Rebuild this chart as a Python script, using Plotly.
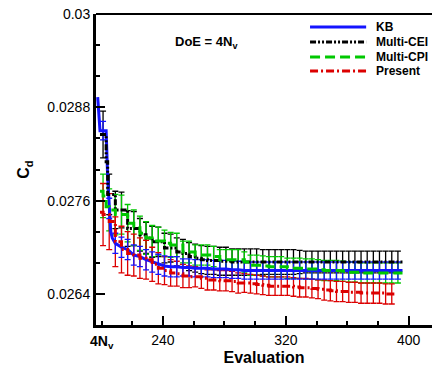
import plotly.graph_objects as go

# ---------------- data ----------------
eval_x = [201, 205, 209, 213, 217, 221, 225, 229, 233, 237,
          241, 245, 249, 253, 257, 261, 265, 269, 273, 277,
          281, 285, 289, 293, 297, 301, 305, 309, 313, 317,
          321, 325, 329, 333, 337, 341, 345, 349, 353, 357,
          361, 365, 369, 373, 377, 381, 385, 389, 393]

kb_y = [0.02850, 0.02750, 0.02705, 0.02700, 0.02697, 0.02690, 0.02688, 0.02684, 0.02681, 0.02678,
        0.02676, 0.02675, 0.02675, 0.02674, 0.02674, 0.02673, 0.02673, 0.02673, 0.02672, 0.02672,
        0.02672, 0.02671, 0.02671, 0.02670, 0.02670, 0.02670, 0.02670, 0.02670, 0.02670, 0.02670,
        0.02670, 0.02670, 0.02670, 0.02670, 0.02670, 0.02670, 0.02670, 0.02670, 0.02670, 0.02670,
        0.02670, 0.02670, 0.02670, 0.02670, 0.02670, 0.02670, 0.02670, 0.02670, 0.02670]
kb_err = [0.00012, 0.00013, 0.00013, 0.00013, 0.00013, 0.00013, 0.00013, 0.00013, 0.00013, 0.00013,
          0.00013, 0.00013, 0.00013, 0.00011, 0.00011, 0.00011, 0.00011, 0.00011, 0.00011, 0.00011,
          0.00011, 0.00011, 0.00011, 0.00011, 0.00011, 0.00011, 0.00011, 0.00011, 0.00011, 0.00011,
          0.00011, 0.00011, 0.00011, 0.00011, 0.00011, 0.00011, 0.00011, 0.00011, 0.00011, 0.00011,
          0.00011, 0.00011, 0.00011, 0.00011, 0.00011, 0.00011, 0.00011, 0.00011, 0.00011]
kb_extra_x = [197.5, 199, 203, 204, 206, 207, 396]
kb_extra_y = [0.02893, 0.02850, 0.02850, 0.02790, 0.02720, 0.02712, 0.02670]

cei_y = [0.02845, 0.02768, 0.02748, 0.02748, 0.02724, 0.02724, 0.02716, 0.02712, 0.02707, 0.02707,
         0.02699, 0.02699, 0.02694, 0.02692, 0.02688, 0.02686, 0.02684, 0.02683, 0.02683, 0.02682,
         0.02682, 0.02681, 0.02681, 0.02681, 0.02681, 0.02681, 0.02681, 0.02681, 0.02681, 0.02681,
         0.02681, 0.02681, 0.02681, 0.02681, 0.02681, 0.02681, 0.02681, 0.02681, 0.02681, 0.02681,
         0.02681, 0.02681, 0.02681, 0.02681, 0.02681, 0.02681, 0.02681, 0.02681, 0.02681]
cei_err = [0.00030, 0.00026, 0.00024, 0.00023, 0.00023, 0.00022, 0.00021, 0.00020, 0.00020, 0.00019,
           0.00019, 0.00018, 0.00018, 0.00018, 0.00018, 0.00018, 0.00018, 0.00018, 0.00018, 0.00018,
           0.00018, 0.00017, 0.00017, 0.00017, 0.00017, 0.00017, 0.00016, 0.00016, 0.00016, 0.00016,
           0.00016, 0.00016, 0.00015, 0.00014, 0.00014, 0.00014, 0.00014, 0.00014, 0.00014, 0.00014,
           0.00014, 0.00014, 0.00014, 0.00014, 0.00014, 0.00014, 0.00014, 0.00014, 0.00014]
cei_extra_x = [199, 203, 204, 396]
cei_extra_y = [0.02845, 0.02810, 0.02768, 0.02681]

cpi_y = [0.02766, 0.02748, 0.02742, 0.02742, 0.02731, 0.02725, 0.02718, 0.02712, 0.02708, 0.02708,
         0.02705, 0.02703, 0.02703, 0.02694, 0.02694, 0.02690, 0.02690, 0.02690, 0.02688, 0.02684,
         0.02684, 0.02684, 0.02684, 0.02681, 0.02677, 0.02677, 0.02676, 0.02675, 0.02675, 0.02675,
         0.02673, 0.02673, 0.02673, 0.02672, 0.02672, 0.02671, 0.02670, 0.02670, 0.02670, 0.02669,
         0.02668, 0.02668, 0.02667, 0.02667, 0.02667, 0.02667, 0.02667, 0.02667, 0.02667]
cpi_err = [0.00028, 0.00027, 0.00026, 0.00025, 0.00024, 0.00023, 0.00022, 0.00021, 0.00020, 0.00018,
           0.00017, 0.00016, 0.00015, 0.00014, 0.00014, 0.00013, 0.00013, 0.00013, 0.00013, 0.00013,
           0.00013, 0.00013, 0.00013, 0.00013, 0.00013, 0.00013, 0.00013, 0.00013, 0.00013, 0.00013,
           0.00013, 0.00013, 0.00013, 0.00013, 0.00013, 0.00013, 0.00013, 0.00013, 0.00013, 0.00013,
           0.00013, 0.00013, 0.00013, 0.00013, 0.00013, 0.00013, 0.00013, 0.00013, 0.00013]
cpi_extra_x = [199, 203, 396]
cpi_extra_y = [0.02772, 0.02752, 0.02667]

pre_x = eval_x[:48]
pre_y = [0.02742, 0.02733, 0.02707, 0.02697, 0.02692, 0.02690, 0.02686, 0.02684, 0.02678, 0.02673,
         0.02670, 0.02667, 0.02666, 0.02663, 0.02662, 0.02662, 0.02660, 0.02658, 0.02658, 0.02657,
         0.02657, 0.02656, 0.02654, 0.02654, 0.02653, 0.02652, 0.02651, 0.02650, 0.02650, 0.02650,
         0.02650, 0.02649, 0.02648, 0.02648, 0.02647, 0.02646, 0.02645, 0.02644, 0.02643, 0.02643,
         0.02642, 0.02642, 0.02641, 0.02641, 0.02641, 0.02641, 0.02640, 0.02640]
pre_err = [0.00040, 0.00036, 0.00032, 0.00030, 0.00028, 0.00027, 0.00026, 0.00025, 0.00022, 0.00020,
           0.00018, 0.00017, 0.00016, 0.00015, 0.00014, 0.00013, 0.00013, 0.00013, 0.00013, 0.00013,
           0.00013, 0.00013, 0.00013, 0.00012, 0.00012, 0.00012, 0.00012, 0.00012, 0.00012, 0.00012,
           0.00012, 0.00012, 0.00012, 0.00012, 0.00012, 0.00012, 0.00013, 0.00013, 0.00013, 0.00013,
           0.00013, 0.00013, 0.00013, 0.00013, 0.00013, 0.00013, 0.00013, 0.00013]
pre_extra_x = [199, 391]
pre_extra_y = [0.02745, 0.02640]

y_tickvals = [0.0264, 0.0276, 0.0288, 0.03]
y_ticktext = ["0.0264", "0.0276", "0.0288", "0.03"]
x_tickvals = [240, 320, 400]
x_ticktext = ["240", "320", "400"]

names = ["KB", "Multi-CEI", "Multi-CPI", "Present"]
colors = ["#1414ff", "#000000", "#00c800", "#dc0000"]
dashes = ["solid", "6px,2px,2px,2px,2px,2px", "10px,5px", "8px,3px,2px,3px"]
shapes_line = ["linear", "hv", "hv", "hv"]

FONT = "Liberation Sans, Arial, sans-serif"


def merged(gx, gy, ex, ey):
    pts = sorted(list(zip(gx, gy)) + list(zip(ex, ey)))
    return [p[0] for p in pts], [p[1] for p in pts]


series = [
    (eval_x, kb_y, kb_err, kb_extra_x, kb_extra_y),
    (eval_x, cei_y, cei_err, cei_extra_x, cei_extra_y),
    (eval_x, cpi_y, cpi_err, cpi_extra_x, cpi_extra_y),
    (pre_x, pre_y, pre_err, pre_extra_x, pre_extra_y),
]

fig = go.Figure()

# error bars first
for i in [1, 2, 3, 0]:
    gx, gy, ge, ex, ey = series[i]
    fig.add_trace(go.Scatter(
        x=gx, y=gy, mode="markers",
        marker=dict(size=2, color=colors[i], opacity=0),
        error_y=dict(type="data", array=ge, color=colors[i], thickness=1.3, width=3),
        showlegend=False, hoverinfo="skip"))

# lines
for i in [0, 1, 2, 3]:
    gx, gy, ge, ex, ey = series[i]
    lx, ly = merged(gx, gy, ex, ey)
    fig.add_trace(go.Scatter(
        x=lx, y=ly, mode="lines", name=names[i],
        line=dict(color=colors[i], width=3, dash=dashes[i], shape=shapes_line[i]),
        showlegend=False))

# custom legend (line samples + labels)
leg_y = [0.958, 0.910, 0.862, 0.817]
shapes = [dict(type="line", xref="paper", yref="paper", x0=0, x1=1, y0=1, y1=1,
               line=dict(color="black", width=2))]
annotations = []
for i in range(4):
    shapes.append(dict(type="line", xref="paper", yref="paper",
                       x0=0.637, x1=0.804, y0=leg_y[i], y1=leg_y[i],
                       line=dict(color=colors[i], width=3, dash=dashes[i])))
    annotations.append(dict(xref="paper", yref="paper", x=0.826, y=leg_y[i],
                            xanchor="left", yanchor="middle", showarrow=False,
                            text="<b>%s</b>" % names[i],
                            font=dict(family=FONT, size=12, color="black")))

annotations.append(dict(xref="paper", yref="paper", x=0.330, y=0.907,
                        xanchor="center", yanchor="middle", showarrow=False,
                        text="<b>DoE = 4N<sub>v</sub></b>",
                        font=dict(family=FONT, size=13, color="black")))
annotations.append(dict(xref="x", yref="paper", x=200, y=0, yshift=-6,
                        xanchor="center", yanchor="top", showarrow=False,
                        text="<b>4N<sub>v</sub></b>",
                        font=dict(family=FONT, size=14, color="black")))

fig.update_layout(
    width=432, height=371,
    margin=dict(l=96, r=0, t=14, b=46),
    paper_bgcolor="white", plot_bgcolor="white",
    font=dict(family=FONT, size=14, color="black"),
    showlegend=False,
    shapes=shapes, annotations=annotations,
    xaxis=dict(
        range=[196.4, 415.2],
        tickmode="array", tickvals=x_tickvals, ticktext=x_ticktext,
        ticks="inside", ticklen=9, tickwidth=2, tickcolor="black",
        minor=dict(tickmode="linear", tick0=200, dtick=20, ticks="inside",
                   ticklen=4, tickwidth=1.5, tickcolor="black", showgrid=False),
        showline=True, linewidth=3, linecolor="black",
        showgrid=False, zeroline=False,
        tickfont=dict(family=FONT, size=14, color="black"),
        title=dict(text="<b>Evaluation</b>", font=dict(family=FONT, size=16, color="black"),
                   standoff=6),
    ),
    yaxis=dict(
        range=[0.026, 0.03],
        tickmode="array", tickvals=y_tickvals, ticktext=y_ticktext,
        ticks="inside", ticklen=9, tickwidth=2, tickcolor="black",
        minor=dict(tickmode="linear", tick0=0.026, dtick=0.0004, ticks="inside",
                   ticklen=4, tickwidth=1.5, tickcolor="black", showgrid=False),
        showline=True, linewidth=3, linecolor="black",
        showgrid=False, zeroline=False,
        tickfont=dict(family=FONT, size=14, color="black"),
        title=dict(text="<b>C<sub>d</sub></b>", font=dict(family=FONT, size=16, color="black"),
                   standoff=14),
    ),
)

fig.write_html("out.html")
